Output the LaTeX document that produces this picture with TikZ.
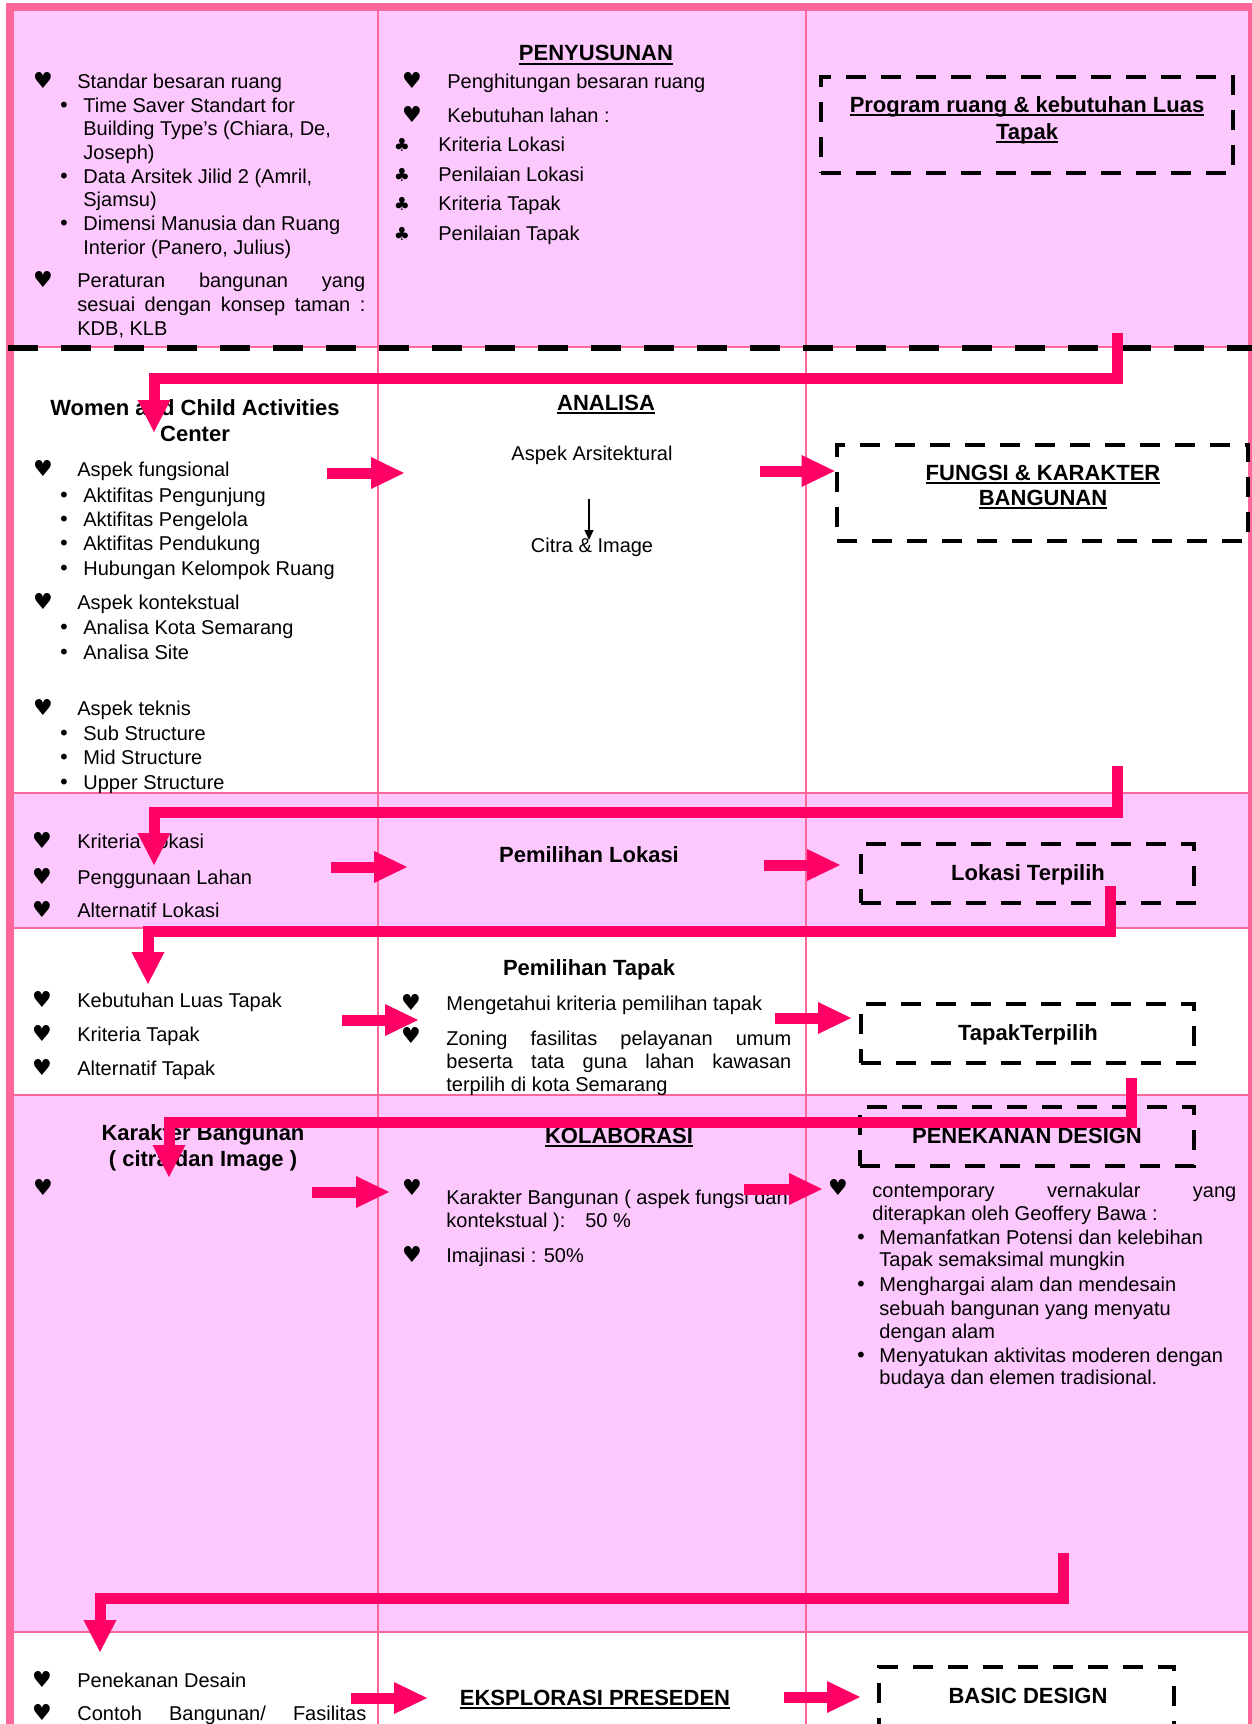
\documentclass[tikz,border=0pt]{standalone}
\usepackage{fontspec}
\setmainfont{Liberation Sans}
\newfontfamily\symf{DejaVu Sans}
\usepackage{xcolor}
\usepackage{tikz}
\usetikzlibrary{arrows.meta, backgrounds}
\definecolor{rowpink}{RGB}{253,200,253}
\definecolor{gridpink}{RGB}{255,102,153}
\definecolor{hotpink}{RGB}{255,0,102}
\newcommand{\ulin}[1]{\setbox0=\hbox{#1}\rlap{\rule[-2pt]{\wd0}{1pt}}\box0}

\begin{document}
\begin{tikzpicture}[
    x=0.5pt, y=-0.5pt,
    txt/.style={anchor=base west, inner sep=0pt, font=\fontsize{10}{12}\selectfont},
    mtxt/.style={anchor=base, inner sep=0pt, font=\fontsize{10}{12}\selectfont},
    ttl/.style={anchor=base, inner sep=0pt, font=\fontsize{11}{13}\selectfont\bfseries},
    hrt/.style={anchor=base, inner sep=0pt, font=\symf\fontsize{11}{12}\selectfont},
    clb/.style={anchor=base, inner sep=0pt, font=\symf\fontsize{9}{10}\selectfont},
    bul/.style={anchor=base, inner sep=0pt, font=\symf\fontsize{10}{12}\selectfont},
    dbox/.style={draw, line width=2.4pt, dash pattern=on 10pt off 7.5pt, minimum height=29.5pt, inner sep=0pt},
    elbow/.style={hotpink, line width=5.5pt, -{Triangle[length=16pt, width=16.5pt, line width=0pt]}},
    blk/.style={hotpink, line width=5.5pt, -{Triangle[length=16.5pt, width=16pt, line width=0pt]}},
    thinarr/.style={line width=0.6pt, -{Triangle[length=5pt, width=4.5pt]}},
    gridline/.style={draw=gridpink, line width=1pt}
]
\useasboundingbox (0,0) rectangle (1252,1724);

\draw[gridline] (6,347) -- (1252,347);
\draw[gridline] (6,793) -- (1252,793);
\draw[gridline] (6,928) -- (1252,928);
\draw[gridline] (6,1095) -- (1252,1095);
\draw[gridline] (6,1632) -- (1252,1632);
\draw[gridline] (378,10) -- (378,1724);
\draw[gridline] (806,10) -- (806,1724);
\draw[gridpink, line width=4pt] (10,1724) -- (10,7) -- (1252,7) -- (1252,1724);
\draw[line width=3pt, dash pattern=on 15pt off 11.5pt] (8,348) -- (1252,348);

\node[dbox, minimum width=206pt, minimum height=48pt] (progbox) at (1027,125) {};
\node[dbox, minimum width=205.5pt, minimum height=48pt] (fungbox) at (1042.5,493) {};
\node[dbox, minimum width=166.5pt] (lokbox) at (1027.5,873.5) {};
\node[dbox, minimum width=166.5pt] (tapbox) at (1027.5,1033.5) {};
\node[dbox, minimum width=167pt] (penbox) at (1027,1136.5) {};
\node[dbox, minimum width=147.5pt] (basbox) at (1026.5,1696.5) {};

\node[hrt] (h1) at (43,88) {♥};
\node[txt] (std) at (77,88) {Standar besaran ruang};
\node[bul] (b1) at (64,112) {•};
\node[txt] (ts1) at (83,112) {Time Saver Standart for};
\node[txt] (ts2) at (83,135) {Building Type’s (Chiara, De,};
\node[txt] (ts3) at (83,159) {Joseph)};
\node[bul] (b2) at (64,183) {•};
\node[txt] (da1) at (83,183) {Data Arsitek Jilid 2 (Amril,};
\node[txt] (da2) at (83,206) {Sjamsu)};
\node[bul] (b3) at (64,230) {•};
\node[txt] (dm1) at (83,230) {Dimensi Manusia dan Ruang};
\node[txt] (dm2) at (83,254) {Interior (Panero, Julius)};
\node[hrt] (h2) at (43,287) {♥};
\node[txt] (pr1) at (77,287) {\makebox[144pt][s]{Peraturan bangunan yang}};
\node[txt] (pr2) at (77,311) {\makebox[144pt][s]{sesuai dengan konsep taman :}};
\node[txt] (pr3) at (77,335) {KDB, KLB};

\node[ttl] (peny) at (596,61) {\ulin{PENYUSUNAN}};
\node[hrt] (h3) at (412,88) {♥};
\node[txt] (hit) at (447,88) {Penghitungan besaran ruang};
\node[hrt] (h4) at (412,122) {♥};
\node[txt] (keb) at (447,122) {Kebutuhan lahan :};
\node[clb] (c1) at (402,151) {♣};
\node[txt] (krlok) at (438,151) {Kriteria Lokasi};
\node[clb] (c2) at (402,181) {♣};
\node[txt] (pnlok) at (438,181) {Penilaian Lokasi};
\node[clb] (c3) at (402,210) {♣};
\node[txt] (krtap) at (438,210) {Kriteria Tapak};
\node[clb] (c4) at (402,240) {♣};
\node[txt] (pntap) at (438,240) {Penilaian Tapak};

\node[ttl] (prog1) at (1027,112) {\ulin{Program ruang \& kebutuhan Luas}};
\node[ttl] (prog2) at (1027,139) {\ulin{Tapak}};

\node[ttl] (wc1) at (195,415) {Women and Child Activities};
\node[ttl] (wc2) at (195,441) {Center};
\node[hrt] (h5) at (43,476) {♥};
\node[txt] (afu) at (77,476) {Aspek fungsional};
\node[bul] (b4) at (64,502) {•};
\node[txt] (ak1) at (83,502) {Aktifitas Pengunjung};
\node[bul] (b5) at (64,526) {•};
\node[txt] (ak2) at (83,526) {Aktifitas Pengelola};
\node[bul] (b6) at (64,550) {•};
\node[txt] (ak3) at (83,550) {Aktifitas Pendukung};
\node[bul] (b7) at (64,575) {•};
\node[txt] (ak4) at (83,575) {Hubungan Kelompok Ruang};
\node[hrt] (h6) at (43,609) {♥};
\node[txt] (ako) at (77,609) {Aspek kontekstual};
\node[bul] (b8) at (64,634) {•};
\node[txt] (an1) at (83,634) {Analisa Kota Semarang};
\node[bul] (b9) at (64,659) {•};
\node[txt] (an2) at (83,659) {Analisa Site};
\node[hrt] (h7) at (43,715) {♥};
\node[txt] (ate) at (77,715) {Aspek teknis};
\node[bul] (b10) at (64,740) {•};
\node[txt] (st1) at (83,740) {Sub Structure};
\node[bul] (b11) at (64,764) {•};
\node[txt] (st2) at (83,764) {Mid Structure};
\node[bul] (b12) at (64,789) {•};
\node[txt] (st3) at (83,789) {Upper Structure};

\node[ttl] (anl) at (606,410) {\ulin{ANALISA}};
\node[mtxt] (ars) at (592,460) {Aspek Arsitektural};
\node[mtxt] (cit) at (592,552) {Citra \& Image};
\node[ttl] (fk1) at (1043,480) {\ulin{FUNGSI \& KARAKTER}};
\node[ttl] (fk2) at (1043,505) {\ulin{BANGUNAN}};

\node[hrt] (h8) at (42,848) {♥};
\node[txt] (kl1) at (77,848) {Kriteria Lokasi};
\node[hrt] (h9) at (42,884) {♥};
\node[txt] (kl2) at (77,884) {Penggunaan Lahan};
\node[hrt] (h10) at (42,917) {♥};
\node[txt] (kl3) at (77,917) {Alternatif Lokasi};
\node[ttl] (plok) at (589,862) {Pemilihan Lokasi};
\node[ttl] (lter) at (1028,880) {Lokasi Terpilih};

\node[ttl] (ptap) at (589,975) {Pemilihan Tapak};
\node[hrt] (h11) at (42,1007) {♥};
\node[txt] (kt1) at (77,1007) {Kebutuhan Luas Tapak};
\node[hrt] (h12) at (42,1041) {♥};
\node[txt] (kt2) at (77,1041) {Kriteria Tapak};
\node[hrt] (h13) at (42,1075) {♥};
\node[txt] (kt3) at (77,1075) {Alternatif Tapak};
\node[hrt] (h14) at (411,1010) {♥};
\node[txt] (mk) at (446,1010) {Mengetahui kriteria pemilihan tapak};
\node[hrt] (h15) at (411,1043) {♥};
\node[txt] (zo1) at (446,1045) {\makebox[172.5pt][s]{Zoning fasilitas pelayanan umum}};
\node[txt] (zo2) at (446,1068) {\makebox[172.5pt][s]{beserta tata guna lahan kawasan}};
\node[txt] (zo3) at (446,1091) {terpilih di kota Semarang};
\node[ttl] (tter) at (1028,1040) {TapakTerpilih};

\node[ttl] (kb1) at (203,1140) {Karakter Bangunan};
\node[ttl] (kb2) at (203,1166) {( citra dan Image )};
\node[hrt] (h16) at (43,1195) {♥};
\node[ttl] (kol) at (619,1143) {\ulin{KOLABORASI}};
\node[hrt] (h17) at (412,1195) {♥};
\node[txt] (ka1) at (446,1204) {Karakter Bangunan ( aspek fungsi dan};
\node[txt] (ka2) at (446,1227) {kontekstual ):\quad 50 \%};
\node[hrt] (h18) at (412,1262) {♥};
\node[txt] (ima) at (446,1262) {Imajinasi : 50\%};
\node[ttl] (pend) at (1027,1143) {PENEKANAN DESIGN};
\node[hrt] (h19) at (838,1195) {♥};
\node[txt] (cv1) at (872,1197) {\makebox[182pt][s]{contemporary vernakular yang}};
\node[txt] (cv2) at (872,1220) {diterapkan oleh Geoffery Bawa :};
\node[bul] (b13) at (861,1244) {•};
\node[txt] (me1) at (879,1244) {Memanfatkan Potensi dan kelebihan};
\node[txt] (me2) at (879,1266) {Tapak semaksimal mungkin};
\node[bul] (b14) at (861,1291) {•};
\node[txt] (mh1) at (879,1291) {Menghargai alam dan mendesain};
\node[txt] (mh2) at (879,1315) {sebuah bangunan yang menyatu};
\node[txt] (mh3) at (879,1338) {dengan alam};
\node[bul] (b15) at (861,1362) {•};
\node[txt] (my1) at (879,1362) {Menyatukan aktivitas moderen dengan};
\node[txt] (my2) at (879,1384) {budaya dan elemen tradisional.};

\node[hrt] (h20) at (42,1687) {♥};
\node[txt] (pde) at (77,1687) {Penekanan Desain};
\node[hrt] (h21) at (42,1720) {♥};
\node[txt] (cbf) at (77,1720) {\makebox[144.5pt][s]{Contoh Bangunan/ Fasilitas}};
\node[ttl] (eks) at (595,1705) {\ulin{EKSPLORASI PRESEDEN}};
\node[ttl] (bas) at (1028,1703) {BASIC DESIGN};

\begin{scope}[on background layer]
\fill[rowpink] (6,10) rectangle (1252,347);
\fill[rowpink] (6,793) rectangle (1252,928);
\fill[rowpink] (6,1095) rectangle (1252,1632);
\end{scope}

\coordinate (k1s) at (1117,333);
\coordinate (k1e) at (154,432);
\coordinate (k2s) at (1117,766);
\coordinate (k2e) at (154,865);
\coordinate (k3s) at (1110,886);
\coordinate (k3e) at (148,984);
\coordinate (k4s) at (1131,1078);
\coordinate (k4e) at (169,1177);
\coordinate (k5s) at (1063,1553);
\coordinate (k5e) at (100,1652);
\draw[elbow] (k1s) -- ++(0,45) -| (k1e);
\draw[elbow] (k2s) -- ++(0,46) -| (k2e);
\draw[elbow] (k3s) -- ++(0,45) -| (k3e);
\draw[elbow] (k4s) -- ++(0,44) -| (k4e);
\draw[elbow] (k5s) -- ++(0,45) -| (k5e);

\coordinate (a1s) at (327,473);
\coordinate (a1e) at (404,473);
\coordinate (a2s) at (760,471);
\coordinate (a3s) at (331,867);
\coordinate (a3e) at (407,867);
\coordinate (a4s) at (764,865);
\coordinate (a4e) at (840,865);
\coordinate (a5s) at (342,1020);
\coordinate (a5e) at (418,1020);
\coordinate (a6s) at (775,1018);
\coordinate (a6e) at (851,1018);
\coordinate (a7s) at (312,1192);
\coordinate (a7e) at (389,1192);
\coordinate (a8s) at (744,1189);
\coordinate (a8e) at (822,1189);
\coordinate (a9s) at (351,1698);
\coordinate (a9e) at (427,1698);
\coordinate (a10s) at (784,1697);
\coordinate (a10e) at (860,1697);
\draw[blk] (a1s) -- (a1e);
\draw[blk] (a2s) -- (a2s -| fungbox.west);
\draw[blk] (a3s) -- (a3e);
\draw[blk] (a4s) -- (a4e);
\draw[blk] (a5s) -- (a5e);
\draw[blk] (a6s) -- (a6e);
\draw[blk] (a7s) -- (a7e);
\draw[blk] (a8s) -- (a8e);
\draw[blk] (a9s) -- (a9e);
\draw[blk] (a10s) -- (a10e);

\coordinate (ci1) at (589,499);
\coordinate (ci2) at (589,540);
\draw[thinarr] (ci1) -- (ci2);
\end{tikzpicture}
\end{document}
